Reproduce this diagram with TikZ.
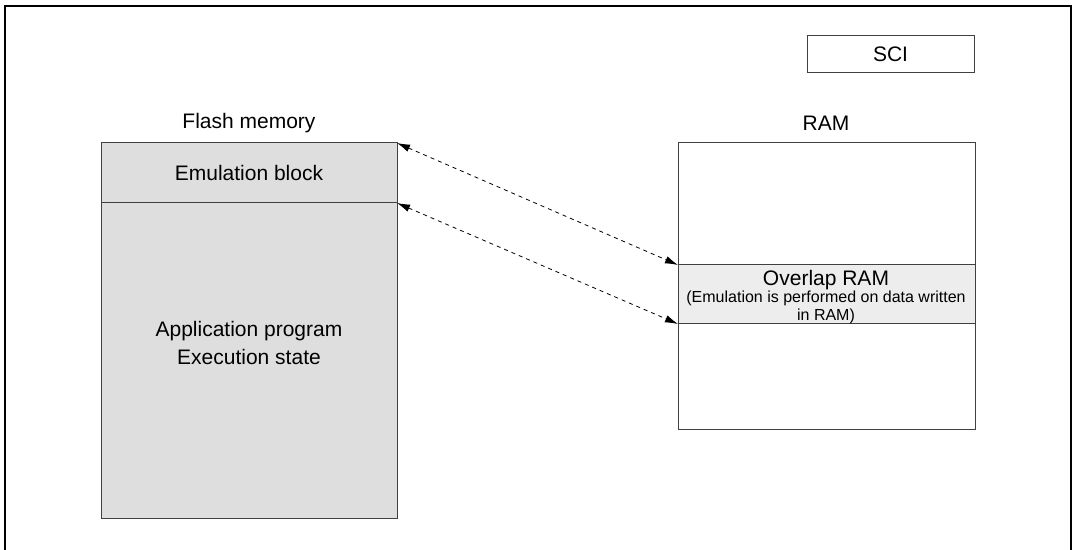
\documentclass[tikz,border=0pt]{standalone}
\usepackage{fontspec}
\setmainfont{Liberation Sans}
\usepackage{tikz}
\usetikzlibrary{arrows.meta}

\begin{document}
\begin{tikzpicture}[x=0.5pt,y=-0.5pt,>={Latex[length=6.5pt,width=3.8pt]}]
    \tikzset{
        memblock/.style={
            draw=black!75,line width=0.5pt,
            inner sep=0pt,outer sep=0pt,anchor=north west,
            align=center
        },
        flashblock/.style={memblock,fill=black!13,minimum width=148pt},
        ramblock/.style={memblock,fill=white,minimum width=148.5pt},
        overlapblock/.style={memblock,fill=black!7,minimum width=148.5pt},
        caption/.style={font=\fontsize{10.5}{12.6}\selectfont},
        note/.style={font=\fontsize{8}{7.5}\selectfont,
            align=center,inner sep=0pt},
        flow/.style={<->,dashed,dash pattern=on 2pt off 2pt,line width=0.4pt}
    }
    \useasboundingbox (0,0) rectangle (1075,550);
    \draw[line width=1pt] (5,550) -- (5,6) -- (1071,6) -- (1071,550);

    \node[caption] (flash-lbl) at (249,123) {Flash memory};
    \node[flashblock,minimum height=157.5pt] (flash-app) at (101,203) {};
    \node[flashblock,minimum height=30pt,caption] (flash-emu) at (101,143)
        {Emulation block};
    \node[caption,align=center] (app-txt) at (249,343)
        {Application program\\[1.4pt]Execution state};

    \node[caption] (ram-lbl) at (826,123) {RAM};
    \node[ramblock,minimum height=143pt] (ram) at (678,143) {};
    \node[overlapblock,minimum height=29.5pt] (overlap) at (678,265) {};
    \node[note] (overlap-txt) at (826,297)
        {\lineskiplimit=-5pt\relax
         {\fontsize{10.5}{7.5}\selectfont Overlap RAM}\\[-0.6pt]
         (Emulation is performed on data written\\[1.8pt]
         in RAM)};

    \node[memblock,minimum width=83.5pt,minimum height=18.5pt,caption]
        (sci) at (807,36) {SCI};

    \foreach \a/\b in {flash-emu.north east/overlap.north west,
        flash-app.north east/overlap.south west}{
        \draw[flow] (\a) -- (\b);
    }
\end{tikzpicture}
\end{document}
